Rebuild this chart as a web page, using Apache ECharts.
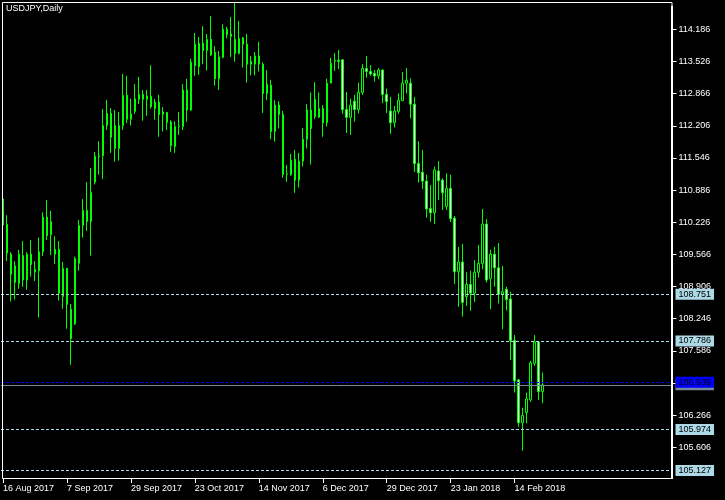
<!DOCTYPE html>
<html><head><meta charset="utf-8">
<script src="https://cdn.jsdelivr.net/npm/echarts@6/dist/echarts.min.js"></script>
<style>html,body{margin:0;padding:0;background:#000}#c{width:725px;height:500px}</style>
</head><body><div id="c"></div>
<script>
const dates = [
'16 Aug 2017','17 Aug 2017','18 Aug 2017','21 Aug 2017','22 Aug 2017','23 Aug 2017','24 Aug 2017','25 Aug 2017','28 Aug 2017','29 Aug 2017','30 Aug 2017','31 Aug 2017',
'1 Sep 2017','4 Sep 2017','5 Sep 2017','6 Sep 2017','7 Sep 2017','8 Sep 2017','11 Sep 2017','12 Sep 2017','13 Sep 2017','14 Sep 2017','15 Sep 2017','18 Sep 2017','19 Sep 2017','20 Sep 2017','21 Sep 2017','22 Sep 2017','25 Sep 2017','26 Sep 2017','27 Sep 2017','28 Sep 2017','29 Sep 2017',
'2 Oct 2017','3 Oct 2017','4 Oct 2017','5 Oct 2017','6 Oct 2017','9 Oct 2017','10 Oct 2017','11 Oct 2017','12 Oct 2017','13 Oct 2017','16 Oct 2017','17 Oct 2017','18 Oct 2017','19 Oct 2017','20 Oct 2017','23 Oct 2017','24 Oct 2017','25 Oct 2017','26 Oct 2017','27 Oct 2017','30 Oct 2017','31 Oct 2017',
'1 Nov 2017','2 Nov 2017','3 Nov 2017','6 Nov 2017','7 Nov 2017','8 Nov 2017','9 Nov 2017','10 Nov 2017','13 Nov 2017','14 Nov 2017','15 Nov 2017','16 Nov 2017','17 Nov 2017','20 Nov 2017','21 Nov 2017','22 Nov 2017','23 Nov 2017','24 Nov 2017','27 Nov 2017','28 Nov 2017','29 Nov 2017','30 Nov 2017',
'1 Dec 2017','4 Dec 2017','5 Dec 2017','6 Dec 2017','7 Dec 2017','8 Dec 2017','11 Dec 2017','12 Dec 2017','13 Dec 2017','14 Dec 2017','15 Dec 2017','18 Dec 2017','19 Dec 2017','20 Dec 2017','21 Dec 2017','22 Dec 2017','26 Dec 2017','27 Dec 2017','28 Dec 2017','29 Dec 2017',
'2 Jan 2018','3 Jan 2018','4 Jan 2018','5 Jan 2018','8 Jan 2018','9 Jan 2018','10 Jan 2018','11 Jan 2018','12 Jan 2018','15 Jan 2018','16 Jan 2018','17 Jan 2018','18 Jan 2018','19 Jan 2018','22 Jan 2018','23 Jan 2018','24 Jan 2018','25 Jan 2018','26 Jan 2018','29 Jan 2018','30 Jan 2018','31 Jan 2018',
'1 Feb 2018','2 Feb 2018','5 Feb 2018','6 Feb 2018','7 Feb 2018','8 Feb 2018','9 Feb 2018','12 Feb 2018','13 Feb 2018','14 Feb 2018','15 Feb 2018','16 Feb 2018','19 Feb 2018','20 Feb 2018','21 Feb 2018','22 Feb 2018','23 Feb 2018'
];
const opens = [
110.70,110.18,109.57,109.33,108.97,109.54,109.04,109.57,109.20,109.23,109.62,110.33,109.97,109.67,109.67,108.70,109.28,108.44,108.14,109.38,
110.16,110.47,110.24,111.05,111.57,111.59,112.21,112.46,112.21,111.74,112.21,112.83,112.34,112.50,112.75,112.85,112.75,112.81,112.56,112.69,
112.44,112.48,112.28,111.78,112.19,112.19,112.94,112.53,113.88,113.42,113.90,113.75,113.98,113.71,113.17,113.61,114.19,114.04,113.98,113.69,
114.01,113.88,113.47,113.47,113.64,113.47,112.87,113.04,112.09,112.63,112.44,111.21,111.20,111.52,111.09,111.48,111.93,112.53,112.39,112.38,
112.56,112.27,113.08,113.53,113.55,113.56,112.54,112.38,112.71,112.54,112.89,113.38,113.32,113.28,113.23,113.35,112.85,112.51,112.27,112.50,
112.72,113.08,113.08,112.65,111.43,111.25,111.07,110.51,110.42,111.28,111.09,110.55,110.92,110.31,109.21,109.41,108.70,108.95,108.77,109.20,
109.38,110.19,109.07,109.57,109.29,108.75,108.85,108.65,107.80,106.99,106.11,106.32,106.58,107.33,107.77,106.75
];
const closes = [
110.17,109.59,109.16,108.99,109.57,109.04,109.57,109.36,109.26,109.62,110.33,109.95,110.24,109.57,108.77,109.28,108.54,107.84,109.48,110.16,
110.47,110.24,110.84,111.58,111.59,112.21,112.46,111.97,111.74,112.21,112.83,112.34,112.45,112.76,112.85,112.75,112.82,112.60,112.69,112.44,
112.49,112.28,111.80,112.19,112.20,112.94,112.53,113.51,113.44,113.90,113.75,113.98,113.66,113.17,113.62,114.19,114.08,114.09,113.69,114.00,
113.88,113.47,113.53,113.64,113.47,112.87,113.06,112.09,112.63,112.44,111.21,111.22,111.50,111.09,111.48,111.93,112.53,112.15,112.75,112.56,
112.27,113.08,113.49,113.55,113.53,112.54,112.38,112.63,112.54,112.89,113.38,113.32,113.27,113.23,113.35,112.85,112.70,112.27,112.51,112.73,
113.08,113.14,112.65,111.43,111.24,111.07,110.50,110.42,111.30,111.08,110.83,110.92,110.30,109.21,109.41,108.58,108.95,108.77,109.20,109.38,
110.19,109.04,109.57,109.29,108.75,108.80,108.64,107.80,106.97,106.11,106.26,106.60,107.34,107.77,106.75,106.89
];
const lows = [
110.12,109.43,108.60,108.64,108.86,108.90,108.84,109.11,109.02,108.27,109.53,109.86,109.55,109.37,108.62,108.45,108.04,107.30,108.12,109.23,
109.91,110.05,109.54,111.00,111.20,111.11,112.12,111.65,111.47,111.49,112.12,112.26,112.21,112.45,112.65,112.31,112.41,112.56,112.33,111.98,
112.09,112.12,111.67,111.65,112.02,112.12,112.29,112.51,113.23,113.25,113.47,113.34,113.64,113.03,112.94,113.59,114.00,113.62,113.52,113.67,
113.40,113.09,113.24,113.24,113.32,112.47,112.73,111.93,111.88,112.15,111.14,111.06,111.18,110.83,110.94,111.37,111.74,111.41,112.34,112.37,
111.98,112.19,113.08,113.33,113.37,112.45,112.06,112.02,112.29,112.46,112.84,113.19,113.23,113.11,113.16,112.67,112.47,112.04,112.17,112.45,
112.72,112.87,112.36,111.26,111.04,110.91,110.32,110.24,110.19,110.68,110.48,110.48,110.23,108.96,108.49,108.29,108.51,108.41,108.59,109.09,
109.26,108.99,108.44,108.90,108.56,108.03,108.42,107.40,106.73,106.03,105.54,106.10,106.54,107.28,106.58,106.51
];
const highs = [
110.76,110.37,109.61,109.43,109.66,109.84,109.61,109.86,109.43,109.91,110.43,110.68,110.46,109.94,109.84,109.41,109.29,108.55,109.52,110.27,
110.70,111.05,111.34,111.67,111.89,112.55,112.74,112.57,112.53,112.49,113.27,113.23,112.76,113.06,113.21,112.94,112.94,113.45,112.76,112.84,
112.59,112.49,112.32,112.30,112.49,113.06,113.17,113.58,114.11,114.03,114.25,114.09,114.46,113.84,113.74,114.29,114.24,114.44,114.73,114.36,
114.03,114.09,113.64,113.72,113.93,113.51,113.35,113.15,112.73,112.71,112.51,111.40,111.63,111.71,111.65,112.16,112.65,112.89,113.10,112.89,
112.63,113.17,113.60,113.70,113.76,113.57,112.90,112.76,112.84,113.09,113.47,113.64,113.45,113.35,113.39,113.36,112.97,112.80,112.61,112.87,
113.31,113.39,113.18,112.80,111.89,111.71,111.20,110.99,111.37,111.48,111.13,111.23,111.20,110.35,109.72,109.78,109.20,109.23,109.45,109.76,
110.50,110.29,109.66,109.72,109.80,109.33,108.90,108.80,107.91,107.01,106.42,106.73,107.38,107.91,107.79,107.14
];
const yTicks = [105.606,106.266,106.926,107.586,108.246,108.906,109.566,110.226,110.886,111.546,112.206,112.866,113.526,114.186];
const levelLines = [108.751, 107.786, 105.974, 105.127];
const pivotLine = 106.939;
const bidLine = 106.885;
const titleText = 'USDJPY,Daily';
const labelEvery = 16;
const padBars = 32;

const cats = dates.concat(new Array(padBars).fill(''));
const ohlc = dates.map((d, i) => [opens[i], closes[i], lows[i], highs[i]]);
const FONT = 'Liberation Sans';
const showIdx = (i) => i % labelEvery === 0 && i < dates.length;

const chart = echarts.init(document.getElementById('c'), null, {renderer: 'canvas'});
const lvl = (v, color, bg, type) => ({
  yAxis: v,
  lineStyle: {color: color, type: type, width: 1},
  label: {backgroundColor: bg, color: '#000', formatter: v.toFixed(3)}
});
chart.setOption({
  backgroundColor: '#000',
  animation: false,
  title: {text: titleText, left: 6, top: 4, padding: 0,
    textStyle: {color: '#fff', fontSize: 9, fontWeight: 'normal', fontFamily: FONT}},
  grid: {left: 0.5, top: 3, width: 672, height: 476},
  xAxis: {
    type: 'category', data: cats, boundaryGap: true,
    axisLine: {show: false},
    axisTick: {show: true, alignWithLabel: true, length: 4, interval: (i) => showIdx(i), lineStyle: {color: '#fff'}},
    axisLabel: {interval: (i) => showIdx(i), color: '#fff', fontSize: 9, fontFamily: FONT, align: 'left', margin: 5},
    splitLine: {show: false}
  },
  yAxis: {
    type: 'value', position: 'right', min: 104.956, max: 114.726,
    axisLine: {show: false}, splitLine: {show: false},
    axisTick: {show: true, length: 4, customValues: yTicks, lineStyle: {color: '#fff'}},
    axisLabel: {customValues: yTicks, color: '#fff', fontSize: 9, fontFamily: FONT, margin: 6,
      formatter: (v) => Number(v).toFixed(3)}
  },
  graphic: [
    {type: 'rect', z: 100, silent: true, shape: {x: 2.5, y: 2.5, width: 669.5, height: 476},
      style: {fill: null, stroke: '#fff', lineWidth: 1}},
    {type: 'line', z: 100, silent: true, shape: {x1: 672, y1: 6, x2: 672, y2: 479},
      style: {stroke: '#fff', lineWidth: 2}}
  ],
  series: [{
    type: 'candlestick', data: ohlc, barWidth: 2,
    itemStyle: {color: '#000', color0: '#fff', borderColor: '#00ff00', borderColor0: '#00ff00',
      borderColorDoji: '#00ff00', borderWidth: 1},
    markLine: {
      symbol: ['none', 'none'], silent: true, animation: false,
      label: {show: true, position: 'end', distance: 3, fontSize: 9, fontFamily: FONT,
        padding: [1, 3, 1, 3], lineHeight: 9},
      data: [
        ...levelLines.map(v => lvl(v, '#add8e6', '#add8e6', [3, 2])),
        lvl(bidLine, '#778899', '#778899', 'solid'),
        lvl(pivotLine, '#0000ff', '#0000ff', [3, 2])
      ]
    }
  }]
});
</script></body></html>
